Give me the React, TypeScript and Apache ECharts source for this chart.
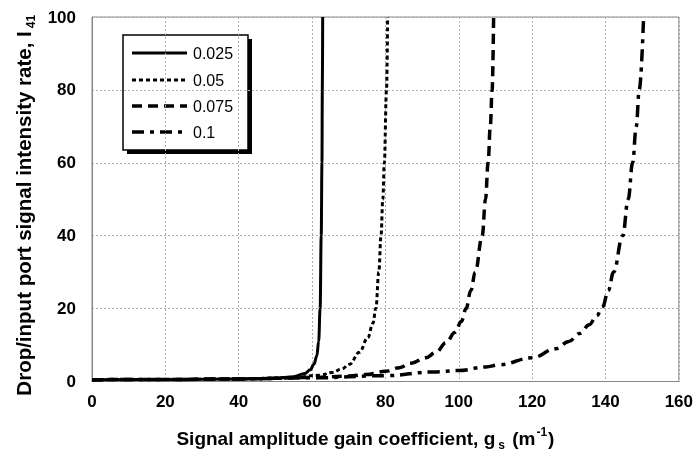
import React, { useEffect, useRef } from "react";
import * as echarts from "echarts";

const seriesNames = ["0.025", "0.05", "0.075", "0.1"];

const s025: [number, number][] = [
  [0, 0.5], [20, 0.55], [40, 0.7], [50, 0.9], [55, 1.3], [58, 2.2], [59.5, 3.2],
  [60.5, 4.7], [61.3, 7], [61.8, 11], [62.2, 20], [62.5, 40], [62.7, 60], [62.8, 80], [62.9, 100],
];
const s050: [number, number][] = [
  [0, 0.5], [20, 0.55], [40, 0.7], [55, 1.1], [62, 1.7], [65.6, 2.5], [68, 3.4], [70.2, 4.7],
  [72.9, 8], [75.2, 12], [76.6, 16], [77.4, 20], [78.2, 30], [78.8, 40], [79.3, 50], [79.7, 60], [80.3, 80], [80.6, 100],
];
const s075: [number, number][] = [
  [0, 0.5], [20, 0.55], [40, 0.7], [60, 1.1], [70, 1.5], [74.7, 1.9], [80, 2.8], [83.8, 3.8],
  [87, 5], [91, 6.5], [93.8, 8], [96.5, 10.6], [99, 13.5], [100.7, 16.5], [102, 20], [103.3, 25],
  [104.5, 30], [106.4, 40], [107.3, 50], [108, 60], [108.6, 70], [109.1, 80], [109.5, 100],
];
const s100: [number, number][] = [
  [0, 0.5], [20, 0.55], [40, 0.7], [60, 1], [80, 1.6], [92.9, 2.6], [100, 3], [107.4, 4],
  [111, 4.6], [120, 6.5], [126.5, 9], [130, 11], [133, 13.2], [135.6, 15.6], [137.6, 18], [139.2, 20.5],
  [140.8, 25], [142.2, 30], [144.7, 40], [146.2, 50], [147.4, 60], [148.4, 70], [149.2, 80], [150.4, 100],
];
const seriesData = [s025, s050, s075, s100];

const xTicks = { min: 0, max: 160, interval: 20 };
const yTicks = { min: 0, max: 100, interval: 20 };

const FONT = '"Liberation Sans", Arial, sans-serif';

const lineStyles: { width: number; type: any }[] = [
  { width: 3, type: "solid" },
  { width: 3, type: [4, 3] },
  { width: 3.5, type: [10, 6] },
  { width: 3.5, type: [12, 6, 4, 6] },
];

export default function App() {
  const ref = useRef<HTMLDivElement>(null);
  useEffect(() => {
    if (!ref.current) return;
    const chart = echarts.init(ref.current, null, { renderer: "svg" });

    const mkRich = (size: number) => ({
      b: { fontSize: size, fontWeight: "bold" as const, fontFamily: FONT, color: "#000", lineHeight: size + 4 },
      sub: { fontSize: 12, fontWeight: "bold" as const, fontFamily: FONT, color: "#000", lineHeight: 12, padding: [14, 2, 0, 3] },
      sup: { fontSize: 12, fontWeight: "bold" as const, fontFamily: FONT, color: "#000", lineHeight: 12, padding: [0, 1, 12, 1] },
    });

    const legendX = 123, legendY = 35, legendW = 125, legendH = 115;
    const rowY = [53, 80, 106, 132];
    const legendChildren: any[] = [
      { type: "rect", shape: { x: legendX + 4, y: legendY + 4, width: legendW, height: legendH }, style: { fill: "#000" } },
      { type: "rect", shape: { x: legendX, y: legendY, width: legendW, height: legendH }, style: { fill: "#fff", stroke: "#000", lineWidth: 1.5 } },
    ];
    seriesNames.forEach((n, i) => {
      const ls = lineStyles[i];
      legendChildren.push({
        type: "line",
        shape: { x1: 132, y1: rowY[i], x2: 187, y2: rowY[i] },
        style: { stroke: "#000", lineWidth: ls.width, lineDash: ls.type === "solid" ? null : ls.type },
      });
      legendChildren.push({
        type: "text",
        x: 193,
        y: rowY[i],
        style: { text: n, fontSize: 16, fontFamily: FONT, fill: "#000", verticalAlign: "middle", align: "left" },
      });
    });

    chart.setOption({
      animation: false,
      grid: { left: 92, right: 17, top: 17, bottom: 72, show: true, borderColor: "#888", borderWidth: 1 },
      xAxis: {
        type: "value",
        min: xTicks.min,
        max: xTicks.max,
        interval: xTicks.interval,
        axisLine: { show: true, lineStyle: { color: "#888" } },
        axisTick: { show: false },
        axisLabel: { fontSize: 17, fontWeight: "bold", fontFamily: FONT, color: "#000", margin: 11 },
        splitLine: { show: true, lineStyle: { color: "#b0b0b0", type: [2, 2], width: 1 } },
        name: "{b|Signal amplitude gain coefficient, g}{sub|s}{b| (m}{sup|-1}{b|)}",
        nameLocation: "middle",
        nameGap: 45,
        nameTextStyle: { rich: mkRich(19), padding: [0, 40, 0, 0] },
      },
      yAxis: {
        type: "value",
        min: yTicks.min,
        max: yTicks.max,
        interval: yTicks.interval,
        axisLine: { show: true, lineStyle: { color: "#888" } },
        axisTick: { show: false },
        axisLabel: { fontSize: 17, fontWeight: "bold", fontFamily: FONT, color: "#000", margin: 16 },
        splitLine: { show: true, lineStyle: { color: "#b0b0b0", type: [2, 2], width: 1 } },
        name: "{b|Drop/input port signal intensity rate, I}{sub|41}",
        nameLocation: "middle",
        nameRotate: 90,
        nameGap: 52,
        nameTextStyle: { rich: mkRich(20.5), padding: [0, 10, 0, 0] },
      },
      series: seriesNames.map((n, i) => ({
        name: n,
        type: "line",
        data: seriesData[i],
        showSymbol: false,
        symbol: "none",
        smooth: 0.4,
        smoothMonotone: "x",
        lineStyle: { color: "#000", width: lineStyles[i].width, type: lineStyles[i].type, cap: "butt" },
        z: 3,
      })),
      graphic: [{ type: "group", z: 100, children: legendChildren }],
    });
    return () => chart.dispose();
  }, []);
  return <div ref={ref} style={{ position: "fixed", left: 0, top: 0, width: 696, height: 456 }} />;
}
